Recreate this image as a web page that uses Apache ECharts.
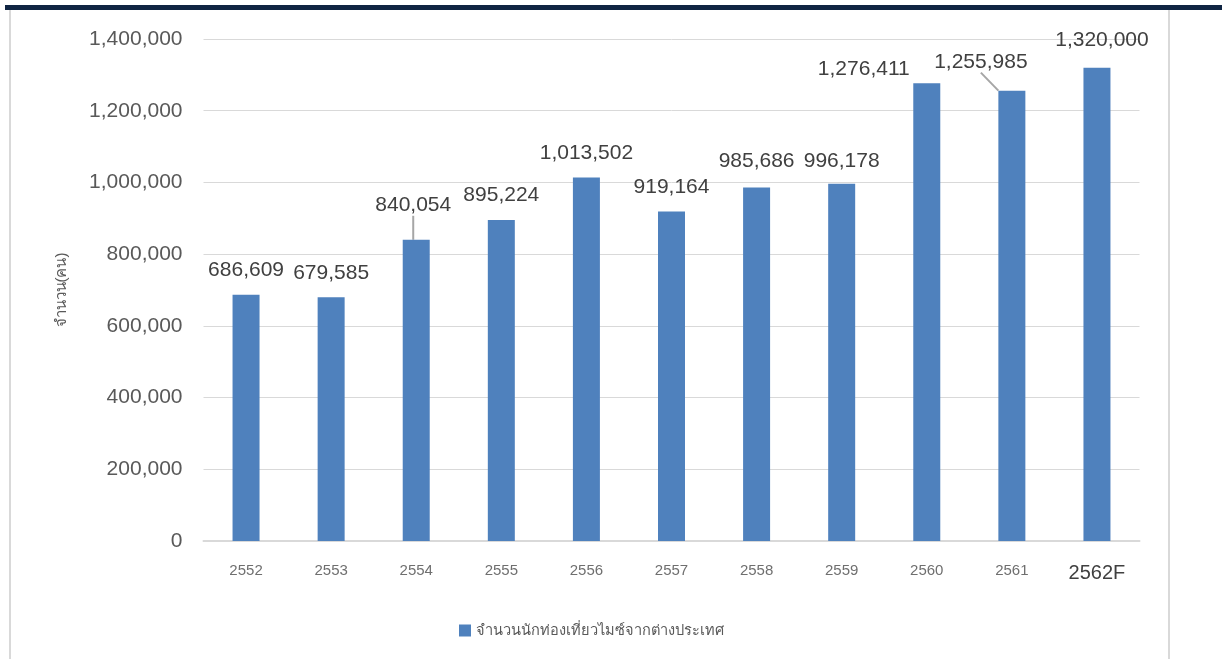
<!DOCTYPE html>
<html>
<head>
<meta charset="utf-8">
<script src="https://cdn.jsdelivr.net/npm/echarts@6/dist/echarts.min.js"></script>
<style>
  html, body { margin: 0; padding: 0; background: #fff; }
  #topBand { position: absolute; left: 5px; top: 5px; width: 1217px; height: 5px; background: #102543; }
  #frame { position: absolute; left: 9px; top: 10px; width: 1157px; height: 660px;
           border-left: 2px solid #d9d9d9; border-right: 2px solid #d9d9d9; }
  #chart { position: absolute; left: 0; top: 0; width: 1222px; height: 659px; }
</style>
</head>
<body>
<div id="topBand"></div>
<div id="frame"></div>
<div id="chart"></div>
<script>
// ปี (พ.ศ.)
const years = ['2552', '2553', '2554', '2555', '2556', '2557', '2558', '2559', '2560', '2561', '2562F'];
// จำนวนนักท่องเที่ยวไมซ์จากต่างประเทศ
const visitors = [686609, 679585, 840054, 895224, 1013502, 919164, 985686, 996178, 1276411, 1255985, 1320000];
const yTicks = [0, 200000, 400000, 600000, 800000, 1000000, 1200000, 1400000];

// labels that were dragged away from the bar top in the original
const labelNudge = { 2: [-3, -10], 6: [0, -2], 7: [0, 2], 8: [-63, 10], 9: [-31, -4], 10: [5, -3] };
const withLeader = [2, 9];

const fmt = v => v.toLocaleString('en-US');
const font = '"Liberation Sans", "Noto Sans", sans-serif';

const chart = echarts.init(document.getElementById('chart'));
chart.setOption({
  animation: false,
  textStyle: { fontFamily: font },
  grid: { left: 203.5, right: 82.5, top: 39, bottom: 118 },
  legend: {
    left: 454, top: 618,
    icon: 'rect', itemWidth: 12, itemHeight: 12, itemGap: 6,
    textStyle: { fontSize: 14.6, color: '#595959', fontFamily: font }
  },
  xAxis: {
    type: 'category',
    data: years,
    axisTick: { show: false },
    axisLine: { lineStyle: { color: '#d9d9d9', width: 2 } },
    axisLabel: {
      margin: 22,
      formatter: v => v === years[years.length - 1] ? '{f|' + v + '}' : '{n|' + v + '}',
      rich: {
        n: { fontSize: 15, color: '#6f6f6f', fontFamily: font },
        f: { fontSize: 20, color: '#404040', fontFamily: font }
      }
    }
  },
  yAxis: {
    type: 'value',
    min: yTicks[0],
    max: yTicks[yTicks.length - 1],
    interval: yTicks[1] - yTicks[0],
    name: 'จำนวน(คน)',
    nameLocation: 'middle',
    nameRotate: 90,
    nameGap: 134,
    nameTextStyle: { fontSize: 15, color: '#595959' },
    axisLabel: { fontSize: 21, color: '#595959', margin: 21, formatter: fmt },
    splitLine: { lineStyle: { color: '#d9d9d9', width: 1 } }
  },
  series: [{
    name: 'จำนวนนักท่องเที่ยวไมซ์จากต่างประเทศ',
    type: 'bar',
    barWidth: 27,
    itemStyle: { color: '#4f81bd' },
    data: visitors.map((v, i) => withLeader.includes(i)
      ? { value: v, labelLine: { show: true } }
      : v),
    label: {
      show: true,
      position: 'top',
      distance: 14,
      fontSize: 21,
      color: '#404040',
      fontFamily: font,
      formatter: p => fmt(p.value)
    },
    labelLine: { show: false, lineStyle: { color: '#a6a6a6', width: 2 } },
    labelLayout: p => {
      const n = labelNudge[p.dataIndex];
      return n ? { dx: n[0], dy: n[1] } : {};
    }
  }]
});
</script>
</body>
</html>
